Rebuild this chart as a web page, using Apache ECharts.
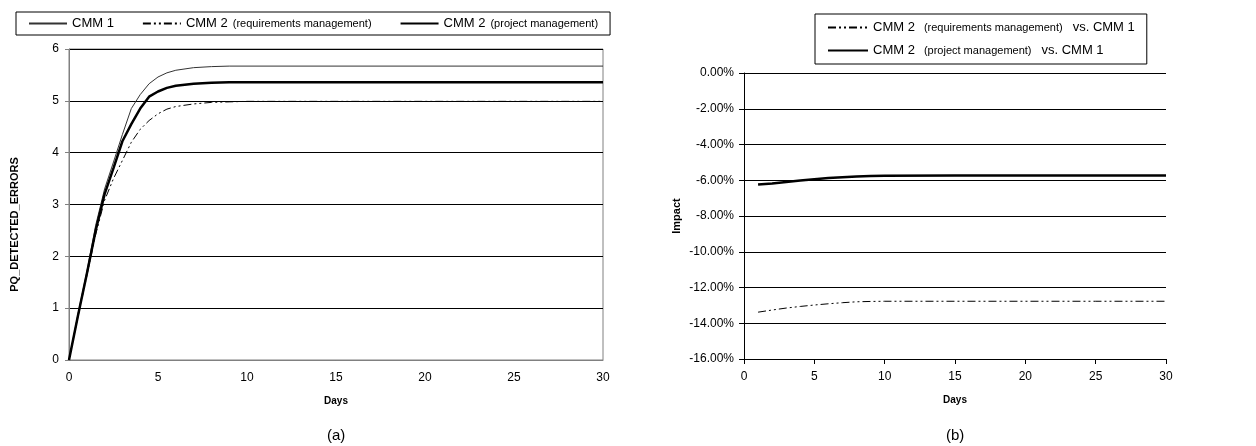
<!DOCTYPE html>
<html>
<head>
<meta charset="utf-8">
<script src="https://cdn.jsdelivr.net/npm/echarts@6/dist/echarts.min.js"></script>
<style>
  html, body { margin: 0; padding: 0; background: #fff; }
  #chart { width: 1256px; height: 446px; }
</style>
</head>
<body>
<div id="chart"></div>
<script>
// (a) detected errors per day
const daysA = [0, 0.5, 1, 1.5, 2, 2.5, 3, 3.5, 4, 4.5, 5, 5.5, 6, 7, 8, 9, 10, 15, 20, 25, 30]
const cmm1 = [0, 0.88, 1.7, 2.6, 3.3, 3.82, 4.35, 4.85, 5.12, 5.33, 5.46, 5.54, 5.59, 5.64, 5.66, 5.67, 5.67, 5.67, 5.67, 5.67, 5.67]
const cmm2Req = [0, 0.83, 1.62, 2.42, 3.08, 3.5, 3.85, 4.2, 4.45, 4.62, 4.75, 4.84, 4.89, 4.94, 4.97, 4.98, 4.99, 4.99, 4.99, 4.99, 4.99]
const cmm2Proj = [0, 0.85, 1.66, 2.5, 3.2, 3.7, 4.22, 4.55, 4.85, 5.08, 5.18, 5.25, 5.29, 5.33, 5.35, 5.36, 5.36, 5.36, 5.36, 5.36, 5.36]

// (b) impact vs CMM 1, percent
const daysB = [1, 2, 3, 4, 5, 6, 7, 8, 9, 10, 15, 20, 25, 30]
const impactReq = [-13.38, -13.26, -13.15, -13.06, -12.98, -12.91, -12.85, -12.8, -12.78, -12.77, -12.77, -12.77, -12.77, -12.77]
const impactProj = [-6.24, -6.18, -6.1, -6.02, -5.95, -5.88, -5.83, -5.79, -5.76, -5.75, -5.74, -5.74, -5.74, -5.74]

const pairs = (xs, ys) => xs.map((x, i) => [x, ys[i]])

const FONT = "'Liberation Sans', Arial, sans-serif"
const DASH_DOT = [8, 3, 2, 3, 2, 3]

// "CMM 2 (xxx) ..." -> parenthesis part is smaller
function legendLabel(name) {
  const m = name.match(/^(CMM 2) (\([^)]*\))(.*)$/)
  if (!m) return '{a|' + name + '}'
  let s = '{a|' + m[1] + '}{b|' + m[2] + '}'
  if (m[3]) s += '{c|' + m[3].trim() + '}'
  return s
}
const richA = {
  a: { fontSize: 13, fontFamily: FONT, color: '#000' },
  b: { fontSize: 11, fontFamily: FONT, color: '#000', padding: [1, 0, 0, 5] }
}
const richB = {
  a: { fontSize: 13, fontFamily: FONT, color: '#000' },
  b: { fontSize: 11, fontFamily: FONT, color: '#000', padding: [1, 0, 0, 9] },
  c: { fontSize: 13, fontFamily: FONT, color: '#000', padding: [0, 0, 0, 10] }
}

const chart = echarts.init(document.getElementById('chart'))
const option = {
  animation: false,
  backgroundColor: '#fff',
  textStyle: { fontFamily: FONT },
  grid: [
    { left: 69, right: 653, top: 49, bottom: 86, show: true, borderColor: '#808080', borderWidth: 1 },
    { left: 744, right: 90, top: 73, bottom: 87 }
  ],
  legend: [
    {
      data: ['CMM 1', 'CMM 2 (requirements management)', 'CMM 2 (project management)'],
      left: 16,
      top: 12,
      padding: [5, 12],
      itemGap: 28,
      itemWidth: 38,
      itemHeight: 14,
      borderColor: '#000',
      borderWidth: 1,
      itemStyle: { opacity: 0 },
      formatter: legendLabel,
      textStyle: { rich: richA }
    },
    {
      data: ['CMM 2 (requirements management) vs. CMM 1', 'CMM 2 (project management) vs. CMM 1'],
      orient: 'vertical',
      left: 815,
      top: 14,
      padding: [7, 12],
      itemGap: 10,
      itemWidth: 40,
      itemHeight: 14,
      borderColor: '#000',
      borderWidth: 1,
      itemStyle: { opacity: 0 },
      formatter: legendLabel,
      textStyle: { rich: richB }
    }
  ],
  xAxis: [
    {
      gridIndex: 0,
      type: 'value',
      min: 0,
      max: 30,
      interval: 5,
      name: 'Days',
      nameLocation: 'middle',
      nameGap: 36,
      nameTextStyle: { fontSize: 10, fontWeight: 'bold', color: '#000' },
      axisLine: { lineStyle: { color: '#808080' } },
      axisTick: { show: false },
      axisLabel: { fontSize: 12, color: '#000', margin: 12 },
      splitLine: { show: false }
    },
    {
      gridIndex: 1,
      type: 'value',
      min: 0,
      max: 30,
      interval: 5,
      name: 'Days',
      nameLocation: 'middle',
      nameGap: 36,
      nameTextStyle: { fontSize: 10, fontWeight: 'bold', color: '#000' },
      axisLine: { onZero: false, lineStyle: { color: '#000' } },
      axisTick: { show: true, length: 5, lineStyle: { color: '#000' } },
      axisLabel: { fontSize: 12, color: '#000', margin: 12 },
      splitLine: { show: false }
    }
  ],
  yAxis: [
    {
      gridIndex: 0,
      type: 'value',
      min: 0,
      max: 6,
      interval: 1,
      name: 'PQ_DETECTED_ERRORS',
      nameLocation: 'middle',
      nameGap: 49,
      nameTextStyle: { fontSize: 11, fontWeight: 'bold', color: '#000', padding: [0, 40, 0, 0] },
      axisLine: { show: true, lineStyle: { color: '#808080' } },
      axisTick: { show: true, length: 4, lineStyle: { color: '#808080' } },
      axisLabel: { fontSize: 12, color: '#000', margin: 10 },
      splitLine: { lineStyle: { color: '#000', width: 1 } }
    },
    {
      gridIndex: 1,
      type: 'value',
      min: -16,
      max: 0,
      interval: 2,
      name: 'Impact',
      nameLocation: 'middle',
      nameGap: 62,
      nameTextStyle: { fontSize: 11, fontWeight: 'bold', color: '#000' },
      axisLine: { show: true, lineStyle: { color: '#000' } },
      axisTick: { show: true, length: 5, lineStyle: { color: '#000' } },
      axisLabel: { fontSize: 12, color: '#000', margin: 10, formatter: v => v.toFixed(2) + '%' },
      splitLine: { lineStyle: { color: '#000', width: 1 } }
    }
  ],
  series: [
    {
      name: 'CMM 1',
      type: 'line',
      xAxisIndex: 0,
      yAxisIndex: 0,
      symbol: 'none',
      lineStyle: { color: '#333', width: 1 },
      itemStyle: { color: '#333' },
      data: pairs(daysA, cmm1)
    },
    {
      name: 'CMM 2 (requirements management)',
      type: 'line',
      xAxisIndex: 0,
      yAxisIndex: 0,
      symbol: 'none',
      lineStyle: { color: '#000', width: 1, type: DASH_DOT },
      itemStyle: { color: '#000' },
      data: pairs(daysA, cmm2Req)
    },
    {
      name: 'CMM 2 (project management)',
      type: 'line',
      xAxisIndex: 0,
      yAxisIndex: 0,
      symbol: 'none',
      lineStyle: { color: '#000', width: 2.5 },
      itemStyle: { color: '#000' },
      data: pairs(daysA, cmm2Proj)
    },
    {
      name: 'CMM 2 (requirements management) vs. CMM 1',
      type: 'line',
      xAxisIndex: 1,
      yAxisIndex: 1,
      symbol: 'none',
      lineStyle: { color: '#000', width: 1, type: DASH_DOT },
      itemStyle: { color: '#000' },
      data: pairs(daysB, impactReq)
    },
    {
      name: 'CMM 2 (project management) vs. CMM 1',
      type: 'line',
      xAxisIndex: 1,
      yAxisIndex: 1,
      symbol: 'none',
      lineStyle: { color: '#000', width: 2.5 },
      itemStyle: { color: '#000' },
      data: pairs(daysB, impactProj)
    }
  ],
  graphic: [
    { type: 'text', left: 336 - 9, top: 428, style: { text: '(a)', fontSize: 15, fontFamily: FONT, fill: '#000' } },
    { type: 'text', left: 955 - 9, top: 428, style: { text: '(b)', fontSize: 15, fontFamily: FONT, fill: '#000' } }
  ]
}
chart.setOption(option)
</script>
</body>
</html>
